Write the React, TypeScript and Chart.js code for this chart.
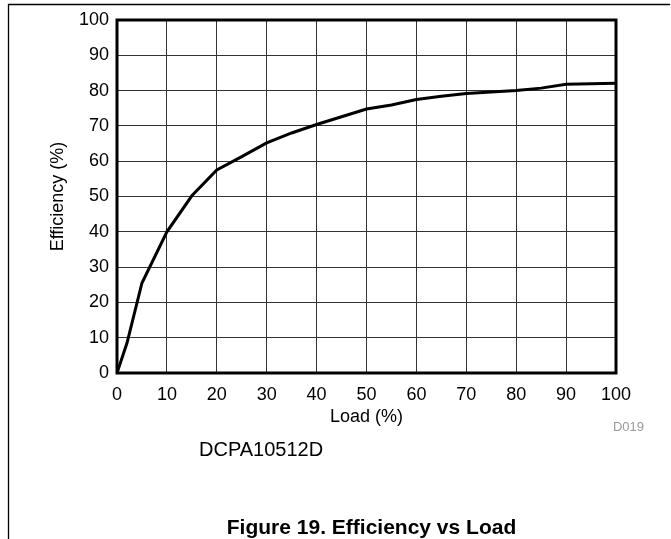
import React, { useEffect, useRef } from "react";
import { Chart, registerables } from "chart.js";

Chart.register(...registerables);

const loadPct = [0, 2, 5, 10, 15, 20, 25, 30, 35, 40, 45, 50, 55, 60, 65, 70, 80, 85, 90, 100];
const efficiency = [0, 8.5, 25.5, 40, 50.2, 57.5, 61.3, 65.2, 68, 70.4, 72.6, 74.8, 75.9, 77.5, 78.4, 79.2, 80, 80.7, 81.8, 82.1];
const xAxisTitle = "Load (%)";
const yAxisTitle = "Efficiency (%)";
const figureCode = "D019";
const deviceName = "DCPA10512D";
const figureTitle = "Figure 19. Efficiency vs Load";

const FONT = "'Liberation Sans', Arial, Helvetica, sans-serif";

const decorPlugin = {
  id: "decor",
  afterDraw(chart: any) {
    const { ctx, chartArea } = chart;
    ctx.save();
    // page frame
    ctx.strokeStyle = "#000";
    ctx.lineWidth = 1.3;
    ctx.beginPath();
    ctx.moveTo(8.5, 539);
    ctx.lineTo(8.5, 4.5);
    ctx.lineTo(670, 4.5);
    ctx.stroke();
    // plot border
    ctx.lineWidth = 3;
    ctx.strokeRect(chartArea.left, chartArea.top, chartArea.right - chartArea.left, chartArea.bottom - chartArea.top);
    // texts
    ctx.textBaseline = "alphabetic";
    ctx.fillStyle = "#9a9a9a";
    ctx.font = `13px ${FONT}`;
    ctx.textAlign = "center";
    ctx.fillText(figureCode, 628.5, 430.5);
    ctx.fillStyle = "#000";
    ctx.font = `20px ${FONT}`;
    ctx.textAlign = "left";
    ctx.fillText(deviceName, 199, 456);
    ctx.font = `bold 21px ${FONT}`;
    ctx.textAlign = "center";
    ctx.fillText(figureTitle, 371.5, 534);
    ctx.restore();
  },
};

export default function App() {
  const ref = useRef<HTMLCanvasElement>(null);
  useEffect(() => {
    if (!ref.current) return;
    const chart = new Chart(ref.current, {
      type: "line",
      data: {
        datasets: [
          {
            data: loadPct.map((x, i) => ({ x, y: efficiency[i] })),
            borderColor: "#000",
            borderWidth: 3,
            pointRadius: 0,
            fill: false,
            tension: 0,
          },
        ],
      },
      options: {
        responsive: false,
        animation: false,
        devicePixelRatio: 1,
        layout: { padding: { left: 0, top: 20, right: 55, bottom: 0 } },
        plugins: { legend: { display: false }, tooltip: { enabled: false }, title: { display: false } },
        scales: {
          x: {
            type: "linear",
            min: 0,
            max: 100,
            border: { display: false },
            grid: { color: "#333", lineWidth: 1, drawTicks: false },
            ticks: { stepSize: 10, color: "#000", padding: 11, font: { family: FONT, size: 18 }, maxRotation: 0 },
            title: {
              display: true,
              text: xAxisTitle,
              color: "#000",
              font: { family: FONT, size: 18 },
              padding: { top: 0, bottom: 111 },
            },
            afterFit(scale: any) {
              scale.height = 166;
            },
          },
          y: {
            type: "linear",
            min: 0,
            max: 100,
            border: { display: false },
            grid: { color: "#333", lineWidth: 1, drawTicks: false },
            ticks: { stepSize: 10, color: "#000", padding: 8, font: { family: FONT, size: 18 } },
            title: {
              display: true,
              text: yAxisTitle,
              color: "#000",
              font: { family: FONT, size: 18 },
              padding: { top: 47, bottom: 0 },
            },
            afterFit(scale: any) {
              scale.width = 117;
            },
          },
        },
      },
      plugins: [decorPlugin],
    });
    return () => chart.destroy();
  }, []);
  return (
    <div style={{ position: "absolute", left: 0, top: 0, width: 671, height: 539, background: "#fff" }}>
      <canvas ref={ref} width={671} height={539} style={{ display: "block", width: 671, height: 539 }} />
    </div>
  );
}
